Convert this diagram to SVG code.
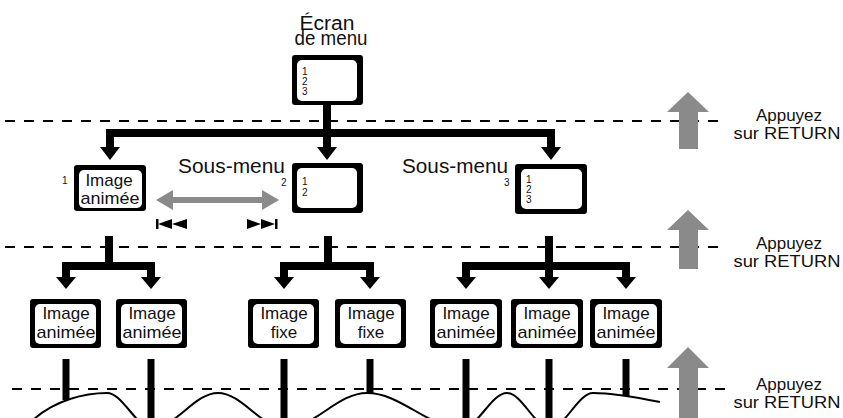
<svg xmlns="http://www.w3.org/2000/svg" width="843" height="418" viewBox="0 0 843 418">
<style>
.t{font-family:"Liberation Sans",Arial,Helvetica,sans-serif;fill:#111}
.lbl{font-size:17px;text-anchor:middle}
.num{font-size:10px}
.big{font-size:20px}
.note{font-size:17px;text-anchor:middle}
.outer{fill:#000}
.inner{fill:#fff}
.conn{stroke:#000;stroke-width:8;fill:none;stroke-linejoin:miter}
.leg{stroke:#000;stroke-width:7}
.dash{stroke:#000;stroke-width:2;stroke-dasharray:10 9;fill:none}
.gray{fill:#8a8a8a}
.wave{stroke:#000;stroke-width:2;fill:none}
</style>
<rect width="843" height="418" fill="#fff"/>

<!-- dashed level separators -->
<g id="separators">
<line class="dash" x1="5" y1="121" x2="726" y2="121"/>
<line class="dash" x1="5" y1="247" x2="726" y2="247"/>
<line class="dash" x1="12" y1="389" x2="726" y2="389"/>
</g>

<!-- connectors -->
<g id="connectors">
<path class="conn" d="M327 105 V149"/>
<path class="conn" d="M110 149 V133 H551 V149"/>
<polygon points="100,147 120,147 110,160"/>
<polygon points="317,147 337,147 327,160"/>
<polygon points="541,147 561,147 551,160"/>

<path class="conn" d="M109 236 V266"/>
<path class="conn" d="M66 279 V266 H151 V279"/>
<polygon points="56,277 76,277 66,289"/>
<polygon points="141,277 161,277 151,289"/>

<path class="conn" d="M328 236 V266"/>
<path class="conn" d="M284 279 V266 H370 V279"/>
<polygon points="274,277 294,277 284,289"/>
<polygon points="360,277 380,277 370,289"/>

<path class="conn" d="M549 236 V279"/>
<path class="conn" d="M466 279 V266 H626 V279"/>
<polygon points="456,277 476,277 466,289"/>
<polygon points="539,277 559,277 549,289"/>
<polygon points="616,277 636,277 626,289"/>

<line class="leg" x1="66" y1="359" x2="66" y2="400"/>
<line class="leg" x1="151" y1="359" x2="151" y2="418"/>
<line class="leg" x1="284" y1="359" x2="284" y2="418"/>
<line class="leg" x1="370" y1="359" x2="370" y2="394"/>
<line class="leg" x1="466" y1="359" x2="466" y2="418"/>
<line class="leg" x1="549" y1="359" x2="549" y2="418"/>
<line class="leg" x1="626" y1="359" x2="626" y2="396"/>
</g>

<!-- wave (continuation) -->
<path id="wave" class="wave" d="M33 420 C55 400 85 393 107 393 C123 393 136 428 152 428 C176 428 194 393 218 393 C242 393 261 428 285 428 C315 428 337 393 367 393 C401 393 428 428 462 428 C478 428 491 393 507 393 C522 393 535 428 550 428 C565 428 578 393 593 393 C615 393 640 398 660 402"/>

<!-- menu screen -->
<g id="menu">
<text class="t big" x="327" y="30" text-anchor="middle" textLength="55" lengthAdjust="spacingAndGlyphs">Écran</text>
<text class="t big" x="331" y="45" text-anchor="middle" textLength="73" lengthAdjust="spacingAndGlyphs">de menu</text>
<rect class="outer" x="292" y="55" width="71" height="50" rx="3"/>
<rect class="inner" x="297" y="60" width="60" height="41" rx="5"/>
<text class="t num" x="302" y="75">1</text>
<text class="t num" x="302" y="85">2</text>
<text class="t num" x="302" y="95">3</text>
</g>

<!-- level 1 -->
<g id="n1">
<text class="t" x="62" y="184" font-size="10">1</text>
<rect class="outer" x="74" y="165" width="72" height="46" rx="3"/>
<rect class="inner" x="79" y="170" width="63" height="38" rx="5"/>
<text class="t lbl" x="109" y="186">Image</text>
<text class="t lbl" x="110" y="204" textLength="59" lengthAdjust="spacingAndGlyphs">animée</text>
</g>

<g id="n2">
<text class="t big" x="178" y="173" textLength="107" lengthAdjust="spacingAndGlyphs">Sous-menu</text>
<text class="t" x="281" y="186" font-size="10">2</text>
<rect class="outer" x="292" y="163" width="71" height="50" rx="3"/>
<rect class="inner" x="297" y="168" width="60" height="40" rx="5"/>
<text class="t num" x="302" y="185">1</text>
<text class="t num" x="302" y="196">2</text>
</g>

<g id="n3">
<text class="t big" x="402" y="173" textLength="106" lengthAdjust="spacingAndGlyphs">Sous-menu</text>
<text class="t" x="504" y="186" font-size="10">3</text>
<rect class="outer" x="515" y="164" width="72" height="50" rx="3"/>
<rect class="inner" x="521" y="169" width="61" height="40" rx="5"/>
<text class="t num" x="526" y="183">1</text>
<text class="t num" x="526" y="193">2</text>
<text class="t num" x="526" y="203">3</text>
</g>

<!-- navigation between submenus -->
<g id="nav">
<polygon class="gray" points="156,200 173,190 173,197 262,197 262,190 279,200 262,210 262,203 173,203 173,210"/>
<rect x="156" y="219" width="2.5" height="10"/>
<polygon points="158,224 172,219 172,229"/>
<polygon points="172,224 187,219 187,229"/>
<polygon points="247,219 261,224 247,229"/>
<polygon points="261,219 275,224 261,229"/>
<rect x="275" y="219" width="2.5" height="10"/>
</g>

<!-- level 2 -->
<g id="a">
<rect class="outer" x="30" y="299" width="71" height="49" rx="3"/>
<rect class="inner" x="35" y="304" width="61" height="40" rx="5"/>
<text class="t lbl" x="66" y="319">Image</text>
<text class="t lbl" x="66" y="338" textLength="59" lengthAdjust="spacingAndGlyphs">animée</text>
</g>
<g id="b">
<rect class="outer" x="116" y="299" width="71" height="49" rx="3"/>
<rect class="inner" x="121" y="304" width="61" height="40" rx="5"/>
<text class="t lbl" x="152" y="319">Image</text>
<text class="t lbl" x="152" y="338" textLength="59" lengthAdjust="spacingAndGlyphs">animée</text>
</g>
<g id="c">
<rect class="outer" x="248" y="299" width="71" height="49" rx="3"/>
<rect class="inner" x="253" y="304" width="61" height="40" rx="5"/>
<text class="t lbl" x="284" y="319">Image</text>
<text class="t lbl" x="284" y="338">fixe</text>
</g>
<g id="d">
<rect class="outer" x="335" y="299" width="71" height="49" rx="3"/>
<rect class="inner" x="340" y="304" width="61" height="40" rx="5"/>
<text class="t lbl" x="371" y="319">Image</text>
<text class="t lbl" x="371" y="338">fixe</text>
</g>
<g id="e">
<rect class="outer" x="430" y="299" width="72" height="49" rx="3"/>
<rect class="inner" x="435" y="304" width="62" height="40" rx="5"/>
<text class="t lbl" x="466" y="319">Image</text>
<text class="t lbl" x="466" y="338" textLength="59" lengthAdjust="spacingAndGlyphs">animée</text>
</g>
<g id="f">
<rect class="outer" x="511" y="299" width="72" height="49" rx="3"/>
<rect class="inner" x="516" y="304" width="62" height="40" rx="5"/>
<text class="t lbl" x="547" y="319">Image</text>
<text class="t lbl" x="547" y="338" textLength="59" lengthAdjust="spacingAndGlyphs">animée</text>
</g>
<g id="g">
<rect class="outer" x="590" y="299" width="72" height="49" rx="3"/>
<rect class="inner" x="595" y="304" width="62" height="40" rx="5"/>
<text class="t lbl" x="626" y="319">Image</text>
<text class="t lbl" x="626" y="338" textLength="59" lengthAdjust="spacingAndGlyphs">animée</text>
</g>

<!-- return arrows -->
<g id="ret1">
<polygon class="gray" points="688,92 709,112 698,112 698,149 679,149 679,112 667,112"/>
<text class="t note" x="789" y="121">Appuyez</text>
<text class="t note" x="787" y="139" textLength="107" lengthAdjust="spacingAndGlyphs">sur RETURN</text>
</g>
<g id="ret2">
<polygon class="gray" points="688,210 709,230 698,230 698,269 679,269 679,230 667,230"/>
<text class="t note" x="789" y="249">Appuyez</text>
<text class="t note" x="787" y="267" textLength="107" lengthAdjust="spacingAndGlyphs">sur RETURN</text>
</g>
<g id="ret3">
<polygon class="gray" points="688,347 709,368 698,368 698,425 679,425 679,368 667,368"/>
<text class="t note" x="789" y="390">Appuyez</text>
<text class="t note" x="787" y="408" textLength="107" lengthAdjust="spacingAndGlyphs">sur RETURN</text>
</g>
</svg>
